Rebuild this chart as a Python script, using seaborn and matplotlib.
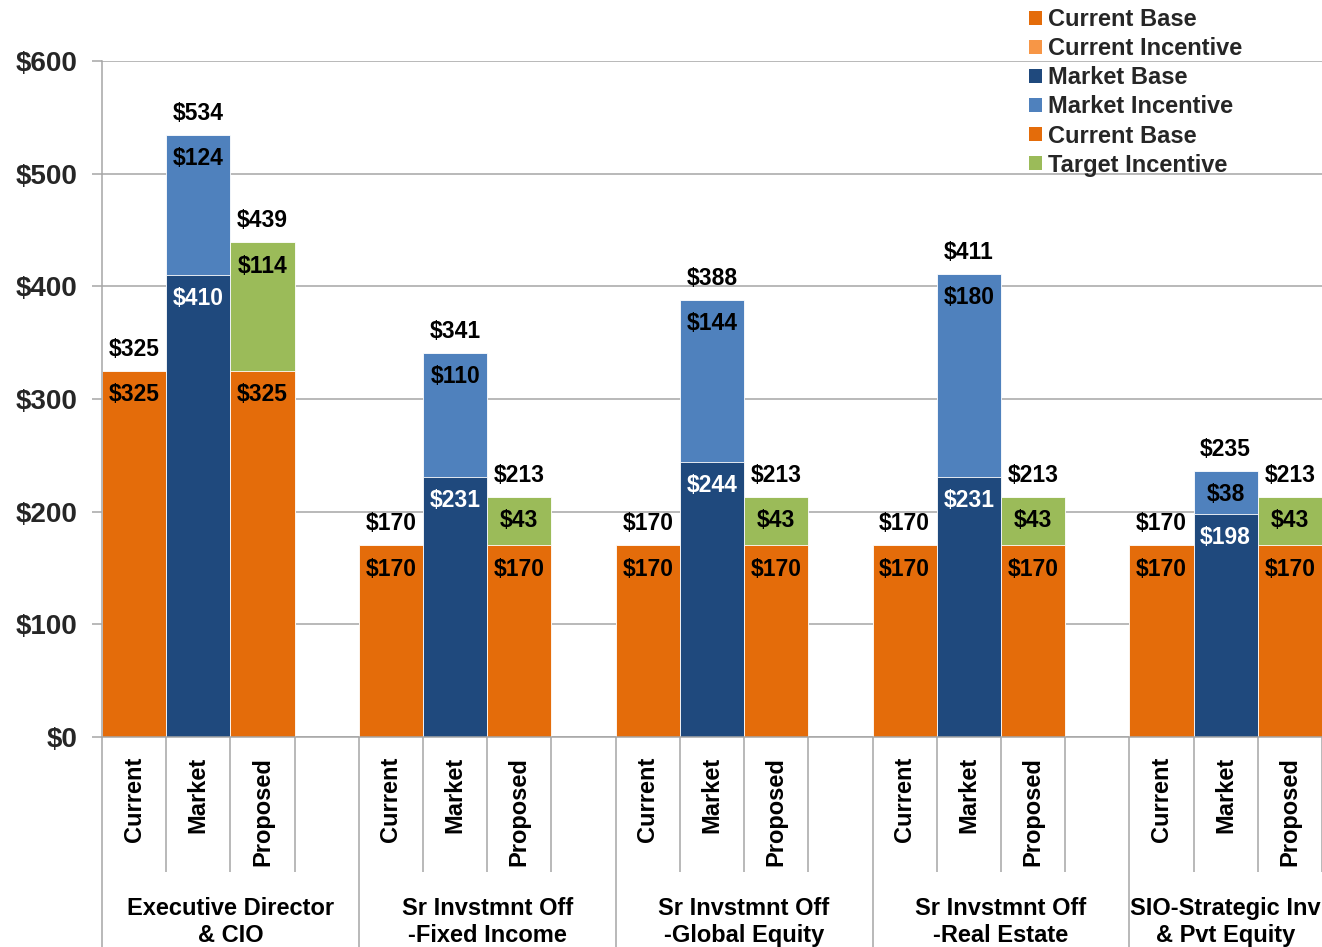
import numpy as np
import pandas as pd
import matplotlib
matplotlib.use("Agg")
import matplotlib.pyplot as plt
import matplotlib.transforms as mtransforms
from matplotlib.patches import Patch
import seaborn as sns

# ---------------- data ----------------
groups = ["Executive Director\n& CIO", "Sr Invstmnt Off\n-Fixed Income",
          "Sr Invstmnt Off\n-Global Equity", "Sr Invstmnt Off\n-Real Estate",
          "SIO-Strategic Inv\n& Pvt Equity"]
scenarios = ["Current", "Market", "Proposed"]

current_base = [325, 170, 170, 170, 170]
current_incentive = [0, 0, 0, 0, 0]
market_base = [410, 231, 244, 231, 198]
market_incentive = [124, 110, 144, 180, 38]
proposed_base = [325, 170, 170, 170, 170]
target_incentive = [114, 43, 43, 43, 43]

current_total = [325, 170, 170, 170, 170]
market_total = [534, 341, 388, 411, 235]
proposed_total = [439, 213, 213, 213, 213]

yticks = [0, 100, 200, 300, 400, 500, 600]
ytick_labels = ["$0", "$100", "$200", "$300", "$400", "$500", "$600"]

legend_labels = ["Current Base", "Current Incentive", "Market Base",
                 "Market Incentive", "Current Base", "Target Incentive"]

# ---------------- colours ----------------
C_ORANGE = "#E46C0A"
C_LORANGE = "#F79646"
C_NAVY = "#1F497D"
C_BLUE = "#4F81BD"
C_GREEN = "#9BBB59"
base_pal = {"Current Base": C_ORANGE, "Market Base": C_NAVY, "Proposed Base": C_ORANGE}
inc_pal = {"Current Incentive": C_LORANGE, "Market Incentive": C_BLUE,
           "Target Incentive": C_GREEN}
legend_colors = [C_ORANGE, C_LORANGE, C_NAVY, C_BLUE, C_ORANGE, C_GREEN]

# ---------------- table ----------------
rows = []
series_data = [
    ("Current", current_base, current_incentive, current_total, "Current Base", "Current Incentive"),
    ("Market", market_base, market_incentive, market_total, "Market Base", "Market Incentive"),
    ("Proposed", proposed_base, target_incentive, proposed_total, "Proposed Base", "Target Incentive"),
]
for g in range(len(groups)):
    for k, (scn, b, inc, tot, bname, iname) in enumerate(series_data):
        rows.append(dict(pos=g * 4 + k, group=g, scenario=scn, base=b[g], inc=inc[g],
                         top=b[g] + inc[g], total_label=tot[g],
                         base_series=bname, inc_series=iname))
df = pd.DataFrame(rows)

# ---------------- figure ----------------
sns.set_theme(style="white")
plt.rcParams["font.family"] = ["Liberation Sans", "DejaVu Sans"]
plt.rcParams["font.weight"] = "bold"

W, H = 1322, 947
fig = plt.figure(figsize=(W / 100, H / 100), dpi=100)
ax_left, ax_right, ax_top, ax_bot = 102, 1322, 61, 737
ax = fig.add_axes([ax_left / W, 1 - ax_bot / H, (ax_right - ax_left) / W, (ax_bot - ax_top) / H])

ax.set_axisbelow(True)
ax.yaxis.grid(True, color="#A6A6A6", linewidth=1.1)

common = dict(native_scale=True, dodge=False, width=1.0, legend=False, ax=ax,
              saturation=1, errorbar=None, edgecolor="white", linewidth=0.6)
sns.barplot(data=df, x="pos", y="top", hue="inc_series", palette=inc_pal, **common)
sns.barplot(data=df, x="pos", y="base", hue="base_series", palette=base_pal, **common)

n_slots = 19
ax.set_xlim(-0.5, n_slots - 0.5)
ax.set_ylim(0, 600)
ax.set_yticks(yticks)
ax.set_yticklabels(ytick_labels, fontsize=20, fontweight="bold")
ax.set_xticks([])
ax.set_xlabel("")
ax.set_ylabel("")
ax.tick_params(axis="y", length=7, width=1.1, color="#A6A6A6", pad=11, left=True)
for s in ["top", "right"]:
    ax.spines[s].set_visible(False)
for s in ["left", "bottom"]:
    ax.spines[s].set_color("#A6A6A6")
    ax.spines[s].set_linewidth(1.1)

# ---------------- data labels ----------------
lab_fs = 16.5
for _, r in df.iterrows():
    x = r["pos"]
    # total above bar
    ax.annotate(f"${r['total_label']}", (x, r["top"]), xytext=(0, 15.5),
                textcoords="offset points", ha="center", va="center",
                fontsize=lab_fs, fontweight="bold", color="black")
    # base label inside top of base segment
    col = "white" if r["scenario"] == "Market" else "black"
    ax.annotate(f"${r['base']}", (x, r["base"]), xytext=(0, -17),
                textcoords="offset points", ha="center", va="center",
                fontsize=lab_fs, fontweight="bold", color=col)
    if r["inc"] > 0:
        ax.annotate(f"${r['inc']}", (x, r["top"]), xytext=(0, -17),
                    textcoords="offset points", ha="center", va="center",
                    fontsize=lab_fs, fontweight="bold", color="black")

# ---------------- category axis below ----------------
trans = mtransforms.blended_transform_factory(ax.transData, ax.transAxes)
axh = ax_bot - ax_top
short_y = -(872 - ax_bot) / axh
long_y = -(H - ax_bot) / axh
for b in range(n_slots + 1):
    xb = b - 0.5
    yend = long_y if (b % 4 == 0 and b < n_slots) else short_y
    ax.plot([xb, xb], [0, yend], transform=trans, color="#A6A6A6", lw=1.1,
            clip_on=False, solid_capstyle="butt")

slot_label_y = -(757 - ax_bot) / axh
for _, r in df.iterrows():
    ax.text(r["pos"], slot_label_y, r["scenario"], transform=trans, rotation=90,
            ha="center", va="top", fontsize=17, fontweight="bold", color="black")

group_label_y = -(922 - ax_bot) / axh
for g, name in enumerate(groups):
    start = g * 4 - 0.5
    end = min(g * 4 + 3.5, n_slots - 0.5)
    ax.text((start + end) / 2, group_label_y, name, transform=trans, ha="center",
            va="center", fontsize=17, fontweight="bold", color="black", linespacing=1.18)

# ---------------- legend ----------------
handles = [Patch(facecolor=c, edgecolor="none") for c in legend_colors]
fig.legend(handles, legend_labels, loc="upper left",
           bbox_to_anchor=(1029 / W, 1 - 8 / H), bbox_transform=fig.transFigure,
           frameon=False, prop={"size": 17, "weight": "bold"},
           handlelength=0.55, handleheight=0.55, handletextpad=0.25,
           labelspacing=0.26, borderpad=0, borderaxespad=0)

fig.savefig("out.png", dpi=100)
